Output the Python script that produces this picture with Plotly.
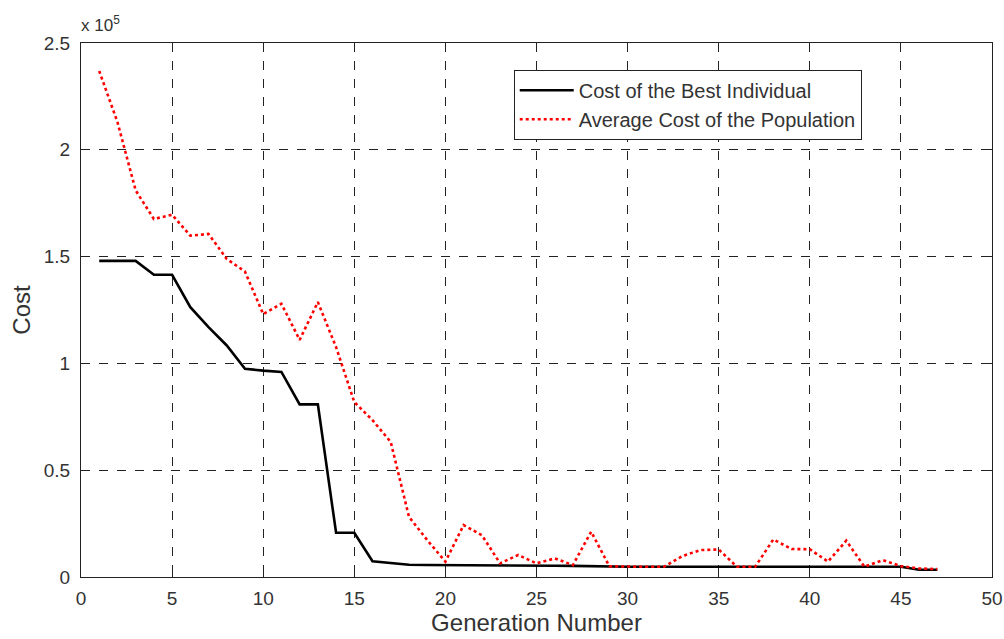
import plotly.graph_objects as go

# Generation index and costs (in units of 1e5)
generations = list(range(1, 48))
best_cost = [1.48, 1.48, 1.48, 1.415, 1.415, 1.263, 1.17, 1.084, 0.975, 0.966,
             0.96, 0.808, 0.808, 0.207, 0.207, 0.074, 0.066, 0.057, 0.056, 0.056,
             0.055, 0.055, 0.055, 0.054, 0.054, 0.053, 0.052, 0.05, 0.048, 0.048,
             0.048, 0.048, 0.048, 0.048, 0.048, 0.048, 0.048, 0.048, 0.048, 0.048,
             0.048, 0.048, 0.048, 0.048, 0.048, 0.034, 0.034]
avg_cost = [2.369, 2.13, 1.81, 1.676, 1.696, 1.598, 1.606, 1.489, 1.43, 1.231,
            1.279, 1.11, 1.287, 1.076, 0.819, 0.734, 0.632, 0.282, 0.173, 0.072,
            0.243, 0.196, 0.064, 0.103, 0.064, 0.087, 0.056, 0.212, 0.05, 0.048,
            0.048, 0.048, 0.098, 0.126, 0.129, 0.048, 0.048, 0.176, 0.131, 0.13,
            0.072, 0.17, 0.048, 0.079, 0.051, 0.04, 0.037]

x_ticks = list(range(0, 51, 5))
y_ticks = [0, 0.5, 1, 1.5, 2, 2.5]
y_tick_text = ["0", "0.5", "1", "1.5", "2", "2.5"]

font_family = "Liberation Sans, Arial, sans-serif"
text_color = "#333"

fig = go.Figure()
fig.add_trace(go.Scatter(
    x=generations, y=best_cost, mode="lines",
    name="Cost of the Best Individual",
    line=dict(color="black", width=2.6),
))
fig.add_trace(go.Scatter(
    x=generations, y=avg_cost, mode="lines",
    name="Average Cost of the Population",
    line=dict(color="#ff0000", width=2.6, dash="dot"),
))

axis_common = dict(
    showline=True, linecolor="#222", linewidth=1.2, mirror="ticks",
    ticks="inside", ticklen=9, tickcolor="#222", tickwidth=1.2,
    showgrid=True, gridcolor="#222", gridwidth=1, griddash="dash",
    zeroline=False, automargin=False,
    tickfont=dict(family=font_family, size=19, color=text_color),
)

fig.update_layout(
    width=1004, height=639,
    margin=dict(l=81, r=12, t=43, b=62),
    paper_bgcolor="white", plot_bgcolor="white",
    font=dict(family=font_family, color=text_color),
    showlegend=True,
    legend=dict(
        x=0.475, y=0.95, xanchor="left", yanchor="top",
        bgcolor="white", bordercolor="#222", borderwidth=1,
        font=dict(family=font_family, size=20, color=text_color),
        tracegroupgap=0, itemwidth=54,
    ),
    xaxis=dict(
        range=[0, 50], tickvals=x_ticks,
        ticklabelstandoff=4,
        title=dict(text="Generation Number", standoff=5,
                   font=dict(family=font_family, size=24, color=text_color)),
        **axis_common,
    ),
    yaxis=dict(
        range=[0, 2.5], tickvals=y_ticks, ticktext=y_tick_text,
        ticklabelstandoff=6,
        title=dict(text="Cost", standoff=6,
                   font=dict(family=font_family, size=24, color=text_color)),
        **axis_common,
    ),
)

# Exponent label for the y axis scale
fig.add_annotation(
    x=0, y=1, xref="paper", yref="paper", xanchor="left", yanchor="bottom",
    text="x 10<sup>5</sup>", showarrow=False, xshift=-2, yshift=6,
    font=dict(family=font_family, size=17, color=text_color),
)

fig.write_html("out.html")
